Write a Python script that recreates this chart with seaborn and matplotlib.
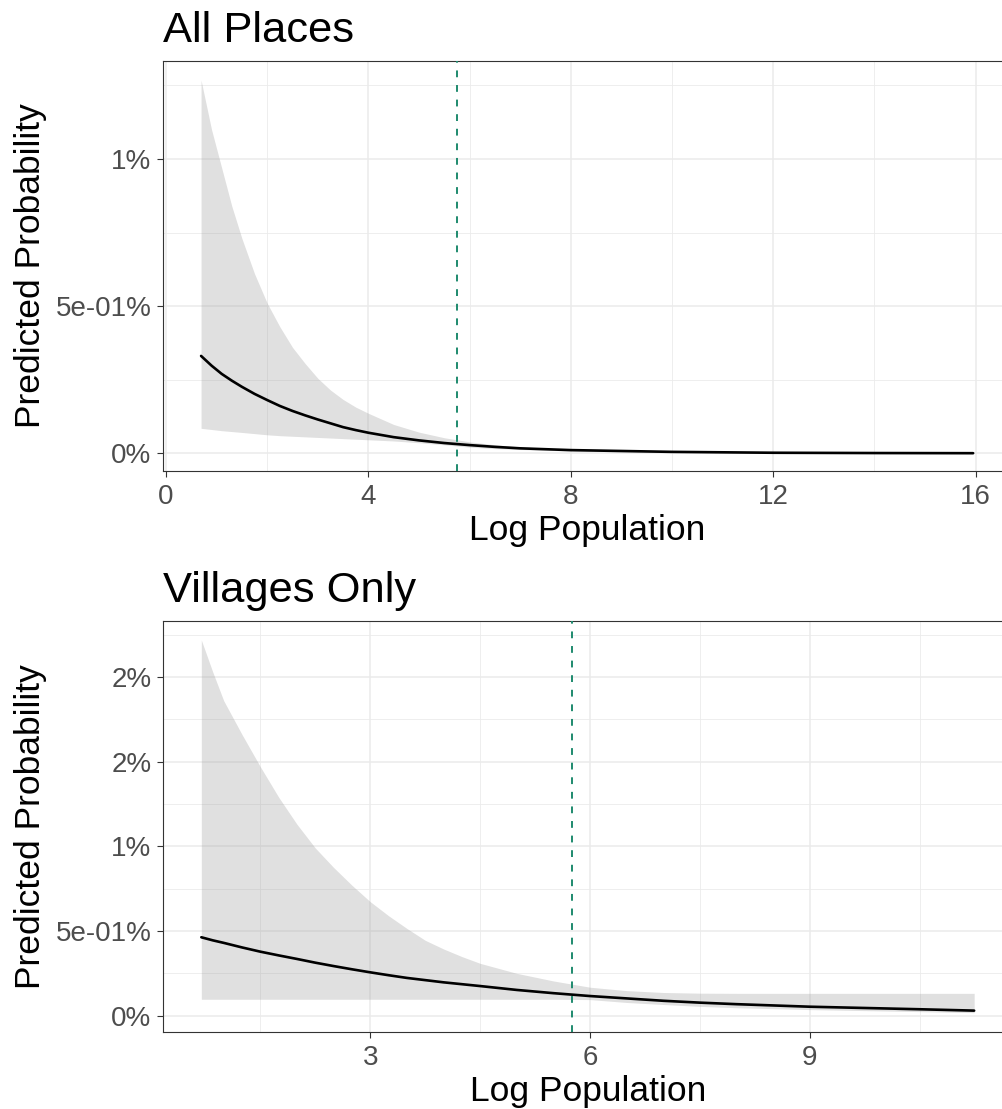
import matplotlib
matplotlib.use("Agg")
import matplotlib.pyplot as plt
import seaborn as sns
import numpy as np
import pandas as pd
from matplotlib.ticker import FixedLocator, FixedFormatter

# ---------------- data (values in percent) ----------------
all_x = [0.693, 0.9, 1.1, 1.3, 1.5, 1.75, 2.0, 2.25, 2.5, 2.75, 3.0, 3.25, 3.5, 3.75, 4.0,
         4.5, 5.0, 5.5, 6.0, 6.5, 7.0, 8.0, 10.0, 12.0, 14.0, 15.95]
all_fit = [0.331, 0.298, 0.270, 0.247, 0.226, 0.202, 0.181, 0.161, 0.144, 0.129, 0.115, 0.102, 0.089, 0.079, 0.070,
           0.055, 0.044, 0.035, 0.028, 0.022, 0.017, 0.011, 0.005, 0.002, 0.001, 0.0005]
all_upper = [1.268, 1.10, 0.97, 0.84, 0.73, 0.61, 0.51, 0.43, 0.36, 0.305, 0.255, 0.215, 0.183, 0.157, 0.136,
             0.098, 0.072, 0.053, 0.039, 0.029, 0.022, 0.013, 0.005, 0.002, 0.001, 0.0005]
all_lower = [0.085, 0.081, 0.077, 0.074, 0.071, 0.067, 0.063, 0.060, 0.058, 0.056, 0.054, 0.052, 0.050, 0.048, 0.046,
             0.042, 0.036, 0.029, 0.021, 0.016, 0.013, 0.008, 0.003, 0.001, 0.0005, 0.0002]

vil_x = [0.695, 0.85, 1.0, 1.25, 1.5, 1.75, 2.0, 2.25, 2.5, 2.75, 3.0, 3.25, 3.5, 3.75, 4.0, 4.25, 4.5,
         5.0, 5.5, 6.0, 6.5, 7.0, 7.5, 8.0, 9.0, 10.0, 10.5, 11.24]
vil_fit = [0.463, 0.445, 0.43, 0.403, 0.378, 0.356, 0.335, 0.313, 0.293, 0.274, 0.256, 0.239, 0.223, 0.210, 0.197, 0.186, 0.175,
           0.152, 0.133, 0.116, 0.102, 0.088, 0.077, 0.068, 0.053, 0.043, 0.038, 0.030]
vil_upper = [2.218, 2.03, 1.86, 1.66, 1.47, 1.29, 1.13, 0.99, 0.875, 0.77, 0.673, 0.59, 0.515, 0.445, 0.394, 0.349, 0.309,
             0.25, 0.205, 0.168, 0.148, 0.137, 0.133, 0.132, 0.132, 0.132, 0.132, 0.132]
vil_lower = [0.097, 0.097, 0.097, 0.097, 0.097, 0.097, 0.097, 0.097, 0.097, 0.097, 0.097, 0.097, 0.097, 0.097, 0.097, 0.097, 0.097,
             0.097, 0.097, 0.095, 0.078, 0.066, 0.055, 0.047, 0.036, 0.028, 0.024, 0.018]

cutoff_x = 5.75

titles = ["All Places", "Villages Only"]
x_label = "Log Population"
y_label = "Predicted Probability"

all_xticks = [0, 4, 8, 12, 16]
all_xminor = [2, 6, 10, 14]
all_yticks = [0, 0.5, 1.0]
all_yminor = [0.25, 0.75, 1.25]
all_ylabels = ["0%", "5e-01%", "1%"]

vil_xticks = [3, 6, 9]
vil_xminor = [1.5, 4.5, 7.5, 10.5]
vil_yticks = [0, 0.5, 1.0, 1.5, 2.0]
vil_yminor = [0.25, 0.75, 1.25, 1.75, 2.25]
vil_ylabels = ["0%", "5e-01%", "1%", "2%", "2%"]

# ---------------- styling ----------------
sns.set_theme(style="white")
plt.rcParams["font.family"] = ["Liberation Sans", "DejaVu Sans"]

W, H = 1003, 1109
fig = plt.figure(figsize=(W / 100, H / 100), dpi=100)

def px_axes(left, top, right, bottom):
    return fig.add_axes([left / W, 1 - bottom / H, (right - left) / W, (bottom - top) / H])

ax1 = px_axes(162.7, 61, 1011.6, 471)
ax2 = px_axes(162.7, 621, 1013.0, 1032.3)

panels = [
    (ax1, all_x, all_fit, all_lower, all_upper, (-0.0652, 16.71), (-0.060, 1.333),
     all_xticks, all_xminor, all_yticks, all_yminor, all_ylabels, titles[0]),
    (ax2, vil_x, vil_fit, vil_lower, vil_upper, (0.168, 11.77), (-0.098, 2.330),
     vil_xticks, vil_xminor, vil_yticks, vil_yminor, vil_ylabels, titles[1]),
]

for (ax, xs, fit, lo, up, xlim, ylim, xt, xm, yt, ym, ylabs, title) in panels:
    ax.set_facecolor("white")
    # grid
    for v in xt:
        ax.axvline(v, color="#EBEBEB", lw=1.1, zorder=0)
    for v in xm:
        ax.axvline(v, color="#EBEBEB", lw=0.6, zorder=0)
    for v in yt:
        ax.axhline(v, color="#EBEBEB", lw=1.1, zorder=0)
    for v in ym:
        ax.axhline(v, color="#EBEBEB", lw=0.6, zorder=0)

    ax.fill_between(xs, lo, up, color="#999999", alpha=0.3, lw=0, zorder=1)
    df = pd.DataFrame({"x": xs, "y": fit})
    sns.lineplot(data=df, x="x", y="y", ax=ax, color="black", lw=1.9, zorder=3)
    ax.axvline(cutoff_x, color="#1E8A6E", lw=1.4, dashes=(3.5, 4), zorder=4)

    ax.set_xlim(*xlim)
    ax.set_ylim(*ylim)
    ax.xaxis.set_major_locator(FixedLocator(xt))
    ax.set_xticklabels([str(v) for v in xt])
    ax.yaxis.set_major_locator(FixedLocator(yt))
    ax.yaxis.set_major_formatter(FixedFormatter(ylabs))

    ax.tick_params(axis="both", which="major", length=4, width=0.8, color="#333333",
                   labelcolor="#4D4D4D", labelsize=20, bottom=True, left=True)
    ax.tick_params(axis="x", pad=5)
    ax.tick_params(axis="y", pad=4)

    for s in ax.spines.values():
        s.set_visible(True)
        s.set_color("#333333")
        s.set_linewidth(0.8)

    ax.set_xlabel(x_label, fontsize=25.5, color="black")
    ax.set_ylabel(y_label, fontsize=25.5, color="black", labelpad=6)
    ax.xaxis.set_label_coords(0.5, -0.105)
    ax.xaxis.label.set_va("top")
    ax.set_title(title, loc="left", fontsize=31.3, color="black", pad=14)

fig.savefig("out.png", dpi=100)
